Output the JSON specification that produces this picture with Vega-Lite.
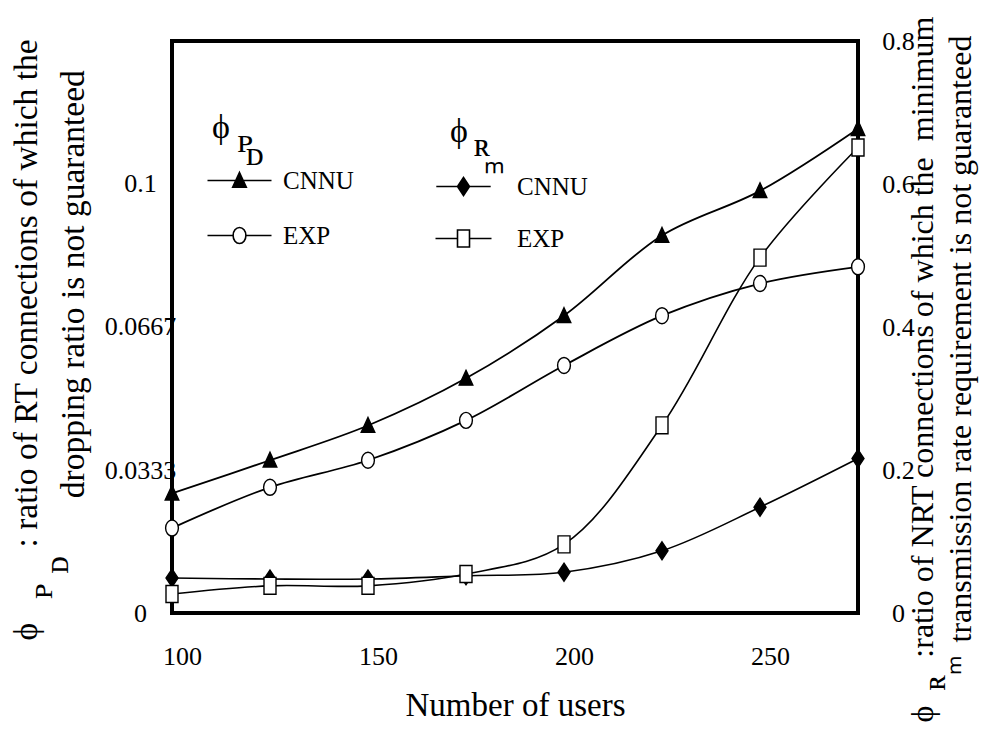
{
  "$schema": "https://vega.github.io/schema/vega-lite/v6.json",
  "width": 686,
  "height": 572,
  "autosize": "none",
  "padding": {"left": 172, "top": 41, "right": 132, "bottom": 120},
  "config": {
    "view": {"stroke": "black", "strokeWidth": 4},
    "font": "Liberation Serif",
    "axis": {
      "domain": false, "ticks": false, "tickSize": 0, "grid": false,
      "labelFont": "Liberation Serif", "labelFontSize": 26, "labelColor": "black",
      "titleFont": "Liberation Serif", "titleColor": "black", "titleFontWeight": "normal",
      "labelFlush": false, "labelOverlap": false, "titleLimit": 3000
    },
    "legend": {
      "labelFont": "Liberation Serif", "labelFontSize": 25, "labelColor": "black",
      "titleFont": "Liberation Serif", "titleFontWeight": "normal", "titleColor": "black",
      "titleFontSize": 34, "titleLimit": 500,
      "symbolOpacity": 1, "symbolStrokeColor": "black", "symbolStrokeWidth": 1.6, "symbolSize": 256
    }
  },
  "data": {
    "values": [
      {"users": 100, "metric": "PD", "scheme": "CNNU", "value": 0.0279},
      {"users": 125, "metric": "PD", "scheme": "CNNU", "value": 0.0356},
      {"users": 150, "metric": "PD", "scheme": "CNNU", "value": 0.0437},
      {"users": 175, "metric": "PD", "scheme": "CNNU", "value": 0.0547},
      {"users": 200, "metric": "PD", "scheme": "CNNU", "value": 0.0693},
      {"users": 225, "metric": "PD", "scheme": "CNNU", "value": 0.0880},
      {"users": 250, "metric": "PD", "scheme": "CNNU", "value": 0.0984},
      {"users": 275, "metric": "PD", "scheme": "CNNU", "value": 0.1129},
      {"users": 100, "metric": "PD", "scheme": "EXP", "value": 0.0198},
      {"users": 125, "metric": "PD", "scheme": "EXP", "value": 0.0293},
      {"users": 150, "metric": "PD", "scheme": "EXP", "value": 0.0356},
      {"users": 175, "metric": "PD", "scheme": "EXP", "value": 0.0449},
      {"users": 200, "metric": "PD", "scheme": "EXP", "value": 0.0577},
      {"users": 225, "metric": "PD", "scheme": "EXP", "value": 0.0693},
      {"users": 250, "metric": "PD", "scheme": "EXP", "value": 0.0768},
      {"users": 275, "metric": "PD", "scheme": "EXP", "value": 0.0807},
      {"users": 100, "metric": "Rm", "scheme": "CNNU", "value": 0.049},
      {"users": 125, "metric": "Rm", "scheme": "CNNU", "value": 0.0475},
      {"users": 150, "metric": "Rm", "scheme": "CNNU", "value": 0.0475},
      {"users": 175, "metric": "Rm", "scheme": "CNNU", "value": 0.052},
      {"users": 200, "metric": "Rm", "scheme": "CNNU", "value": 0.057},
      {"users": 225, "metric": "Rm", "scheme": "CNNU", "value": 0.087},
      {"users": 250, "metric": "Rm", "scheme": "CNNU", "value": 0.148},
      {"users": 275, "metric": "Rm", "scheme": "CNNU", "value": 0.216},
      {"users": 100, "metric": "Rm", "scheme": "EXP", "value": 0.0265},
      {"users": 125, "metric": "Rm", "scheme": "EXP", "value": 0.038},
      {"users": 150, "metric": "Rm", "scheme": "EXP", "value": 0.038},
      {"users": 175, "metric": "Rm", "scheme": "EXP", "value": 0.0545},
      {"users": 200, "metric": "Rm", "scheme": "EXP", "value": 0.096},
      {"users": 225, "metric": "Rm", "scheme": "EXP", "value": 0.2625},
      {"users": 250, "metric": "Rm", "scheme": "EXP", "value": 0.497},
      {"users": 275, "metric": "Rm", "scheme": "EXP", "value": 0.651}
    ]
  },
  "layer": [
    {
      "transform": [{"filter": "datum.metric === 'PD'"}],
      "encoding": {
        "x": {
          "field": "users", "type": "quantitative",
          "scale": {"domain": [100, 275], "nice": false, "zero": false},
          "axis": {
            "values": [100, 150, 200, 250], "labelOffset": 10, "labelPadding": 30,
            "title": "Number of users", "titleFontSize": 33, "titleY": 92, "titleBaseline": "middle"
          }
        },
        "y": {
          "field": "value", "type": "quantitative",
          "scale": {"domain": [0, 0.13333], "nice": false, "zero": true},
          "axis": {
            "orient": "left", "values": [0, 0.0333, 0.0667, 0.1], "format": ".4~f",
            "labelAlign": "center", "labelBaseline": "middle", "labelPadding": 32,
            "title": [
              "\u03d5\u2003\u2003\u00a0: ratio of RT connections of which the",
              "\u200b\u2003\u00a0\u1d18",
              "\u200b\u2003\u2003\u1d05",
              "\u200b\u2003\u2003\u2003\u2003\u00a0dropping ratio is not guaranteed"
            ],
            "titleFontSize": 33.5, "titleLineHeight": 15.7, "titleAngle": 270,
            "titleAlign": "left", "titleBaseline": "middle", "titleX": -146, "titleY": 599
          }
        }
      },
      "layer": [
        {
          "mark": {"type": "line", "interpolate": "catmull-rom", "color": "black", "strokeWidth": 1.8},
          "encoding": {"detail": {"field": "scheme", "type": "nominal"}}
        },
        {
          "transform": [{"filter": "datum.scheme === 'CNNU'"}],
          "mark": {"type": "point", "shape": "M0,-1L0.85,0.85L-0.85,0.85Z", "filled": true, "fill": "black", "stroke": "black", "strokeWidth": 1.4, "size": 256, "opacity": 1}
        },
        {
          "transform": [{"filter": "datum.scheme === 'EXP'"}],
          "mark": {"type": "point", "shape": "M-0.8,0A0.8,1 0 1,0 0.8,0A0.8,1 0 1,0 -0.8,0Z", "filled": true, "fill": "white", "stroke": "black", "strokeWidth": 1.4, "size": 256, "opacity": 1}
        },
        {
          "transform": [{"filter": "datum.users < 0"}],
          "mark": {"type": "point", "filled": true, "stroke": "black", "strokeWidth": 1.6, "opacity": 1, "size": 256},
          "encoding": {
            "shape": {
              "field": "scheme", "type": "nominal",
              "scale": {"domain": ["CNNU", "EXP"], "range": ["M-4,0H4M0,-1L0.85,0.85L-0.85,0.85Z", "M-4,0H-0.8M0.8,0H4M-0.8,0A0.8,1 0 1,0 0.8,0A0.8,1 0 1,0 -0.8,0Z"]},
              "legend": {
                "orient": "none", "legendX": 40, "legendY": 70,
                "title": ["\u03d5", "\u200b\u00a0\u00a0\u00a0\u1d18", "\u200b\u00a0\u00a0\u00a0\u00a0\u1d05"],
                "titleLineHeight": 13.5, "titlePadding": -4,
                "symbolOffset": 15, "labelOffset": 31, "rowPadding": 29
              }
            },
            "fill": {
              "field": "scheme", "type": "nominal",
              "scale": {"domain": ["CNNU", "EXP"], "range": ["black", "white"]}
            },
            "stroke": {
              "field": "scheme", "type": "nominal",
              "scale": {"domain": ["CNNU", "EXP"], "range": ["black", "black"]}
            }
          }
        }
      ]
    },
    {
      "transform": [{"filter": "datum.metric === 'Rm'"}],
      "encoding": {
        "x": {
          "field": "users", "type": "quantitative",
          "scale": {"domain": [100, 275], "nice": false, "zero": false},
          "axis": {
            "values": [100, 150, 200, 250], "labelOffset": 10, "labelPadding": 30,
            "title": "Number of users", "titleFontSize": 33, "titleY": 92, "titleBaseline": "middle"
          }
        },
        "y": {
          "field": "value", "type": "quantitative",
          "scale": {"domain": [0, 0.8], "nice": false, "zero": true},
          "axis": {
            "orient": "right", "values": [0, 0.2, 0.4, 0.6, 0.8], "format": ".1~f",
            "labelAlign": "center", "labelBaseline": "middle", "labelPadding": 40,
            "title": [
              "\u03d5\u2003\u00a0\u00a0:ratio of NRT connections of which the\u00a0\u00a0minimum",
              "\u200b\u2003\u0280",
              "\u200b\u2003\u00a0\u00a0\u2098",
              "\u200b\u2003\u2003\u00a0\u00a0transmission rate requirement is not guaranteed"
            ],
            "titleFontSize": 32, "titleLineHeight": 12.7, "titleAngle": 270,
            "titleAlign": "left", "titleBaseline": "middle", "titleX": 64, "titleY": 681
          }
        }
      },
      "layer": [
        {
          "mark": {"type": "line", "interpolate": "catmull-rom", "color": "black", "strokeWidth": 1.6},
          "encoding": {"detail": {"field": "scheme", "type": "nominal"}}
        },
        {
          "transform": [{"filter": "datum.scheme === 'CNNU'"}],
          "mark": {"type": "point", "shape": "M0,-1.125L0.75,0L0,1.125L-0.75,0Z", "filled": true, "fill": "black", "stroke": "black", "strokeWidth": 1.4, "size": 256, "opacity": 1}
        },
        {
          "transform": [{"filter": "datum.scheme === 'EXP'"}],
          "mark": {"type": "point", "shape": "M-0.75,-1.06H0.75V1.06H-0.75Z", "filled": true, "fill": "white", "stroke": "black", "strokeWidth": 1.4, "size": 256, "opacity": 1}
        },
        {
          "transform": [{"filter": "datum.users < 0"}],
          "mark": {"type": "point", "filled": true, "stroke": "black", "strokeWidth": 1.6, "opacity": 1, "size": 256},
          "encoding": {
            "shape": {
              "field": "scheme", "type": "nominal",
              "scale": {"domain": ["CNNU", "EXP"], "range": ["M-3.4,0H3.4M0,-1.125L0.75,0L0,1.125L-0.75,0Z", "M-3.5,0H-0.75M0.75,0H3.5M-0.75,-1.06H0.75V1.06H-0.75Z"]},
              "legend": {
                "orient": "none", "legendX": 278, "legendY": 74,
                "title": ["\u03d5", "\u200b\u00a0\u00a0\u2009\u0280", "\u200b\u2003\u2098"],
                "titleLineHeight": 14, "titlePadding": -3,
                "symbolOffset": 1, "labelOffset": 41, "rowPadding": 26
              }
            },
            "fill": {
              "field": "scheme", "type": "nominal",
              "scale": {"domain": ["CNNU", "EXP"], "range": ["black", "white"]}
            },
            "stroke": {
              "field": "scheme", "type": "nominal",
              "scale": {"domain": ["CNNU", "EXP"], "range": ["black", "black"]}
            }
          }
        }
      ]
    }
  ],
  "resolve": {
    "scale": {"y": "independent", "shape": "independent", "fill": "independent", "stroke": "independent"},
    "legend": {"shape": "independent", "fill": "independent", "stroke": "independent"}
  }
}
